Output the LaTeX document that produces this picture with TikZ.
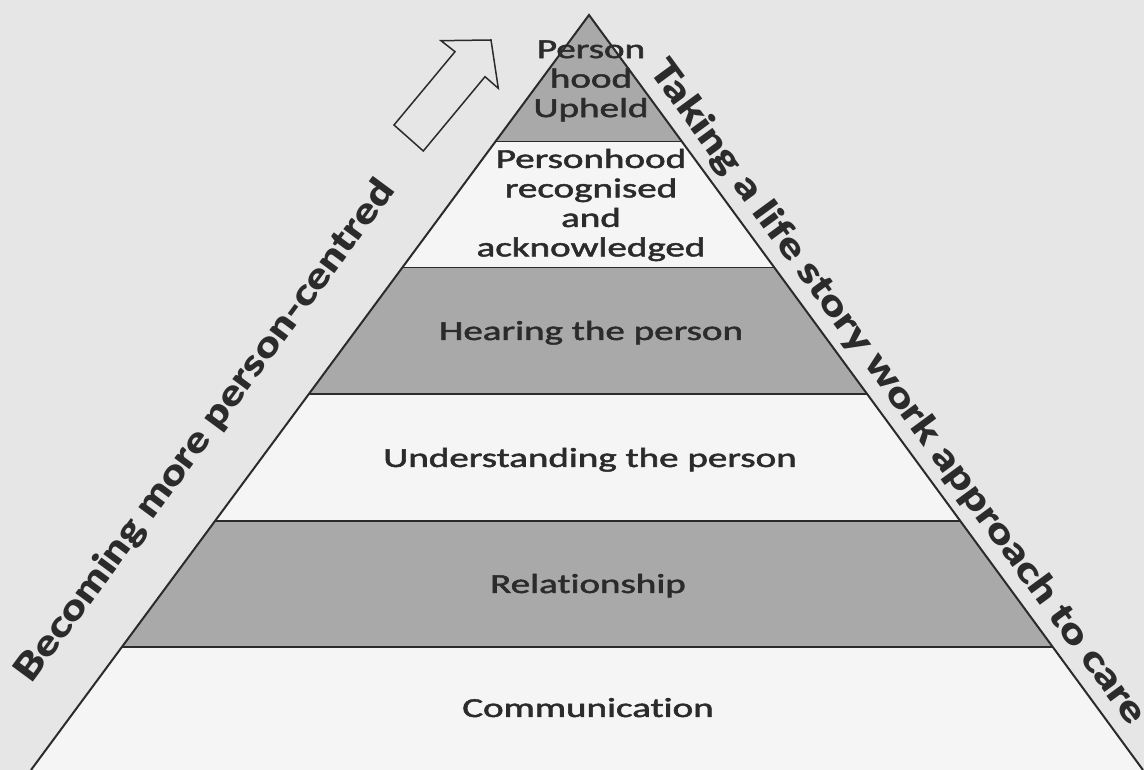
\documentclass[tikz,border=0pt]{standalone}
\usepackage{fontspec}
\setmainfont{Carlito}[Ligatures=NoCommon,FakeBold=1.6]
\newfontfamily\sidefont{Lato Black}
\definecolor{page}{HTML}{E6E6E6}
\definecolor{bandwhite}{HTML}{F5F5F5}
\definecolor{bandgray}{HTML}{A9A9A9}
\definecolor{edge}{HTML}{2B2B2B}
\newcommand\widen[2]{\scalebox{#1}[1]{#2}}
\begin{document}
\begin{tikzpicture}[x=1pt,y=1pt,
	band/.style={xscale=1.42,align=center,text=edge,font=\fontsize{27.5}{29.5}\selectfont},
	side/.style={sloped,anchor=south,inner xsep=0pt,inner ysep=#1,text=edge,font=\sidefont\fontsize{36}{40}\selectfont}]
	\useasboundingbox[fill=page] (0,0) rectangle (1144,770);
	\coordinate (apex) at (589,755);
	\coordinate (lc) at (31,0);
	\coordinate (rc) at (1143,0);
	% bands of the pyramid
	\begin{scope}
		\clip (lc) -- (apex) -- (rc) -- cycle;
		\foreach \lo/\hi/\col in {628.5/760/bandgray,502.5/628.5/bandwhite,376/502.5/bandgray,249/376/bandwhite,123/249/bandgray,-5/123/bandwhite}
			\fill[\col] (0,\lo) rectangle (1144,\hi);
		\foreach \y in {628.5,502.5,376,249,123}
			\draw[line width=1.8pt,edge] (0,\y) -- (1144,\y);
	\end{scope}
	\draw[line width=2pt,edge] (lc) -- (apex) -- (rc);
	\node[band] (upheld) at (591,689) {Person\\hood\\Upheld};
	\node[band] (recog) at (591,565) {Personhood\\recognised\\and\\acknowledged};
	\node[band,anchor=base] (hearing) at (591,430) {Hearing the person};
	\node[band,anchor=base] (understanding) at (590,303) {Understanding the person};
	\node[band,anchor=base] (relation) at (588,177) {Relationship};
	\node[band,anchor=base] (comm) at (588,53) {Communication};
	% labels along the sides
	\path (apex) -- (rc) node[side=8pt,pos=0.52] (lifestory) {\widen{1.24}{Taking a life story work approach to care}};
	\path (lc) -- (apex) node[side=44pt,pos=0.40] (centred) {\widen{1.2}{Becoming more person-centred}};
	% hollow arrow
	\draw[line width=1.5pt,edge,fill=page] (491,730) -- (498.3,681.7) -- (485,693.3) -- (423.3,619) -- (394,645) -- (455,718.3) -- (441,729.3) -- cycle;
\end{tikzpicture}
\end{document}
